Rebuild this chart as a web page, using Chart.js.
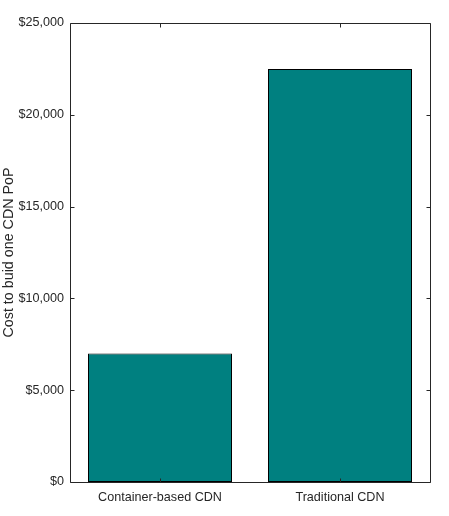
<!DOCTYPE html>
<html>
<head>
<meta charset="utf-8">
<script src="https://cdn.jsdelivr.net/npm/chart.js@4"></script>
<style>
html,body{margin:0;padding:0;background:#fff;}
#wrap{width:449px;height:516px;position:relative;}
</style>
</head>
<body>
<div id="wrap"><canvas id="c" width="449" height="516"></canvas></div>
<script>
const categories = ["Container-based CDN", "Traditional CDN"];
const costValues = [7000, 22500];
const yTicks = [0, 5000, 10000, 15000, 20000, 25000];
const yTitle = "Cost to buid one CDN PoP";

const AX = '#262626';
const FONT = '"Liberation Sans", Arial, Helvetica, sans-serif';

const boxPlugin = {
  id: 'boxPlugin',
  afterDraw(chart) {
    const ctx = chart.ctx;
    const a = chart.chartArea;
    const xs = chart.scales.x, ys = chart.scales.y;
    ctx.save();
    ctx.strokeStyle = AX;
    ctx.lineWidth = 1;
    const L = Math.round(a.left) + 0.5, R = Math.round(a.right) + 0.5;
    const T = Math.round(a.top) + 0.5, B = Math.round(a.bottom) + 0.5;
    ctx.beginPath();
    ctx.rect(L, T, R - L, B - T);
    ctx.stroke();
    const tl = 4;
    ctx.beginPath();
    yTicks.forEach(v => {
      const y = Math.round(ys.getPixelForValue(v)) + 0.5;
      ctx.moveTo(L, y); ctx.lineTo(L + tl, y);
      ctx.moveTo(R, y); ctx.lineTo(R - tl, y);
    });
    categories.forEach((c, i) => {
      const x = Math.round(xs.getPixelForValue(i)) + 0.5;
      ctx.moveTo(x, B); ctx.lineTo(x, B - tl);
      ctx.moveTo(x, T); ctx.lineTo(x, T + tl);
    });
    ctx.stroke();
    ctx.restore();
  }
};

new Chart(document.getElementById('c'), {
  type: 'bar',
  data: {
    labels: categories,
    datasets: [{
      data: costValues,
      backgroundColor: '#008080',
      borderColor: '#000000',
      borderWidth: 1,
      borderSkipped: false,
      categoryPercentage: 0.8,
      barPercentage: 1.0
    }]
  },
  options: {
    responsive: false,
    animation: false,
    devicePixelRatio: 1,
    layout: { padding: { top: 23, right: 19, left: 0, bottom: 0 } },
    plugins: { legend: { display: false }, tooltip: { enabled: false } },
    scales: {
      x: {
        offset: true,
        grid: { display: false, drawTicks: false },
        border: { display: false },
        ticks: { color: AX, font: { family: FONT, size: 12.6 }, padding: 8, maxRotation: 0 },
        afterFit(s) { s.height = 34; }
      },
      y: {
        min: 0, max: 25000,
        afterBuildTicks(s) { s.ticks = yTicks.map(v => ({ value: v })); },
        grid: { display: false, drawTicks: false },
        border: { display: false },
        ticks: {
          color: AX, font: { family: FONT, size: 12.6 }, padding: 6,
          callback: v => '$' + Number(v).toLocaleString('en-US')
        },
        title: { display: true, text: yTitle, color: AX, font: { family: FONT, size: 14.3 }, padding: { top: 0, bottom: 0 } },
        afterFit(s) { s.width = 70; }
      }
    }
  },
  plugins: [boxPlugin]
});
</script>
</body>
</html>
